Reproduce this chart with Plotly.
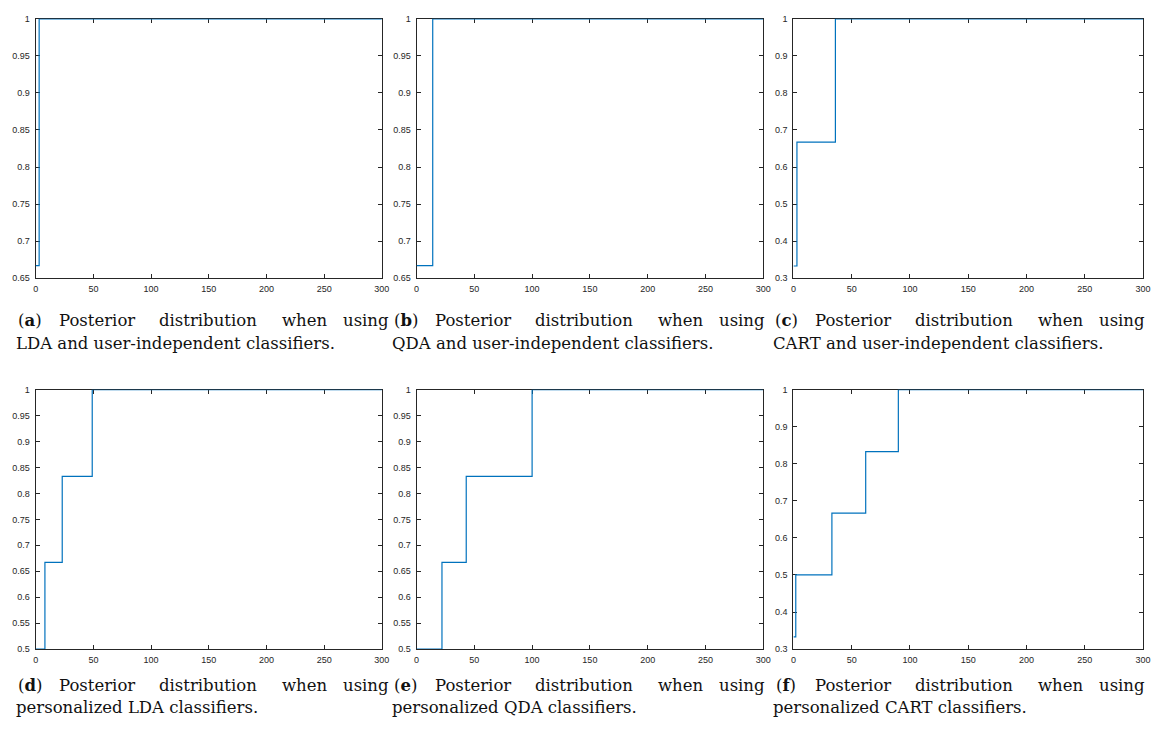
import plotly.graph_objects as go

# ---- data (step change points, value holds until next point) ----
a_x = [0, 3, 300]
a_y = [0.667, 1.0, 1.0]
b_x = [0, 14, 300]
b_y = [0.667, 1.0, 1.0]
c_x = [0, 3, 36, 300]
c_y = [0.333, 0.667, 1.0, 1.0]
d_x = [0, 8, 23, 49, 300]
d_y = [0.5, 0.667, 0.833, 1.0, 1.0]
e_x = [0, 22, 43, 100, 300]
e_y = [0.5, 0.667, 0.833, 1.0, 1.0]
f_x = [0, 2, 33, 62, 90, 300]
f_y = [0.333, 0.5, 0.667, 0.833, 1.0, 1.0]

letters = ["a", "b", "c", "d", "e", "f"]
line2 = [
    "LDA and user-independent classifiers.",
    "QDA and user-independent classifiers.",
    "CART and user-independent classifiers.",
    "personalized LDA classifiers.",
    "personalized QDA classifiers.",
    "personalized CART classifiers.",
]
line1_words = ["Posterior", "distribution", "when", "using"]
y_ranges = [[0.65, 1], [0.65, 1], [0.3, 1], [0.5, 1], [0.5, 1], [0.3, 1]]
y_dticks = [0.05, 0.05, 0.1, 0.05, 0.05, 0.1]
x_range = [0, 300]
x_dtick = 50

series = [(a_x, a_y), (b_x, b_y), (c_x, c_y), (d_x, d_y), (e_x, e_y), (f_x, f_y)]

W, H = 1161, 731
cols = [(33, 382.5), (417.5, 767.5), (798, 1151)]
rows = [(14, 277), (390, 653)]
cap_x = [12.5, 392, 776]
cap_y = [(320, 343), (689.5, 712.5)]
# justified first caption line: word centres relative to caption start
word_cx = [14.5, 82.5, 194.5, 292.5, 354]

fig = go.Figure()
ann = []
fnt = dict(family="DejaVu Serif", size=16.5, color="#111111")
for i, (xs, ys) in enumerate(series):
    r, c = divmod(i, 3)
    n = "" if i == 0 else str(i + 1)
    fig.add_trace(go.Scatter(
        x=xs, y=ys, mode="lines", line=dict(color="#0072BD", width=1.2, shape="hv"),
        xaxis="x" + n, yaxis="y" + n, showlegend=False, hoverinfo="skip"))
    x0, x1 = cols[c]
    y0, y1 = rows[r]
    axstyle = dict(showline=True, linecolor="#262626", linewidth=1, mirror="ticks",
                   ticks="inside", ticklen=4, tickcolor="#262626", showgrid=False,
                   zeroline=False, layer="below traces",
                   tickfont=dict(family="Liberation Sans, Arial", size=9, color="#262626"))
    fig.layout["xaxis" + n] = dict(domain=[x0 / W, x1 / W], range=x_range, dtick=x_dtick,
                                   tick0=0, anchor="y" + n, ticklabelstandoff=2, **axstyle)
    fig.layout["yaxis" + n] = dict(domain=[1 - y1 / H, 1 - y0 / H], range=y_ranges[i],
                                   dtick=y_dticks[i], tick0=0, anchor="x" + n,
                                   ticklabelstandoff=3, **axstyle)
    words = ["(<b>%s</b>)" % letters[i]] + line1_words
    for w, dx in zip(words, word_cx):
        ann.append(dict(xref="paper", yref="paper", x=(cap_x[c] + dx) / W,
                        y=1 - cap_y[r][0] / H, xanchor="center", yanchor="middle",
                        showarrow=False, font=fnt, text=w, borderpad=0))
    ann.append(dict(xref="paper", yref="paper", x=cap_x[c] / W, y=1 - cap_y[r][1] / H,
                    xanchor="left", yanchor="middle", showarrow=False, font=fnt,
                    text=line2[i], borderpad=0))

fig.update_layout(width=W, height=H, margin=dict(l=0, r=0, t=0, b=0),
                  paper_bgcolor="white", plot_bgcolor="white", annotations=ann)
fig.write_html("out.html", config={"displayModeBar": False},
               post_script="document.body.style.margin='0';document.body.style.overflow='hidden';")
